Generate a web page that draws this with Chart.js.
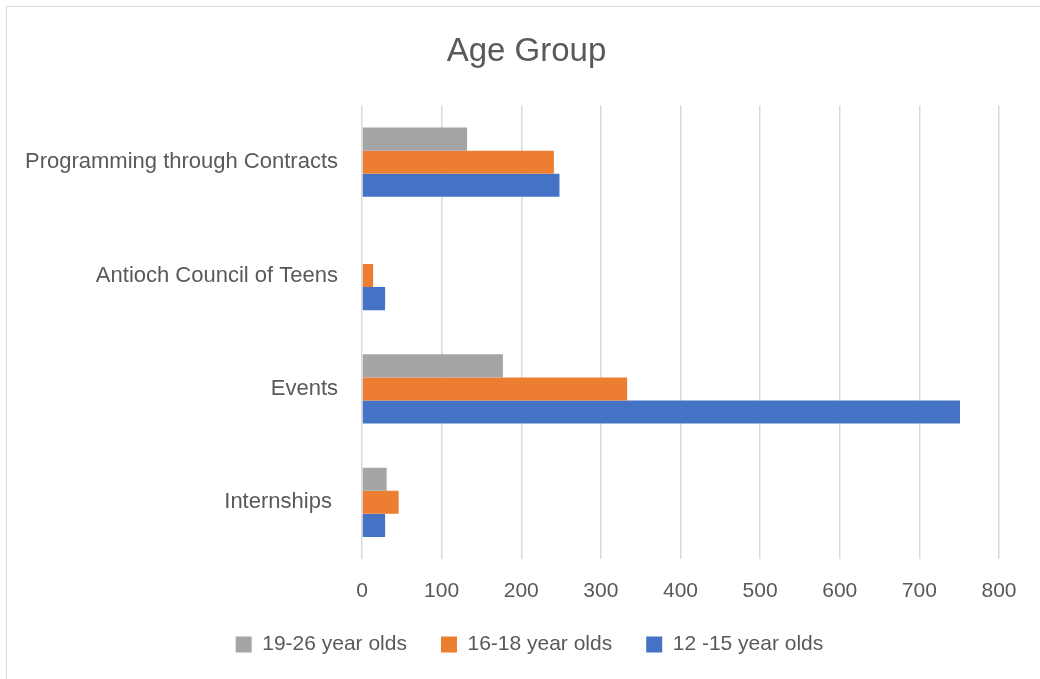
<!DOCTYPE html>
<html>
<head>
<meta charset="utf-8">
<script src="https://cdn.jsdelivr.net/npm/chart.js@4"></script>
<style>
  html, body { margin: 0; padding: 0; background: #fff; }
  #wrap { position: relative; width: 1040px; height: 679px; overflow: hidden; }
  #frame { position: absolute; left: 6px; top: 6px; width: 1100px; height: 760px; border: 1.5px solid #d9d9d9; pointer-events: none; box-sizing: border-box; }
  canvas { position: absolute; left: 0; top: 0; }
</style>
</head>
<body>
<div id="wrap">
  <canvas id="c" width="1040" height="679"></canvas>
  <div id="frame"></div>
</div>
<script>
const categories = ["Programming through Contracts", "Antioch Council of Teens", "Events", "Internships "];
const seriesNames = ["19-26 year olds", "16-18 year olds", "12 -15 year olds"];
const values1926 = [132, 0, 177, 31];
const values1618 = [241, 14, 333, 46];
const values1215 = [248, 29, 751, 29];
const seriesColors = ["#a5a5a5", "#ed7d31", "#4472c4"];
const xTicks = [0, 100, 200, 300, 400, 500, 600, 700, 800];

const FONT = "'Liberation Sans', Arial, sans-serif";
const TXT = "#595959";

const allValues = [values1926, values1618, values1215];
const datasets = seriesNames.map((name, i) => ({
  label: name,
  data: allValues[i],
  backgroundColor: seriesColors[i],
  borderWidth: 0,
  categoryPercentage: 0.61,
  barPercentage: 1.0
}));

// Shift title and legend horizontally to match the reference centring
const shiftBlocks = {
  id: "shiftBlocks",
  afterLayout(chart) {
    const t = chart.titleBlock;
    if (t) { t.left += 27; t.right += 27; }
    const l = chart.legend;
    if (l) { l.left += 30; l.right += 30; }
  }
};

new Chart(document.getElementById("c"), {
  type: "bar",
  data: { labels: categories, datasets },
  plugins: [shiftBlocks],
  options: {
    indexAxis: "y",
    responsive: false,
    animation: false,
    devicePixelRatio: 1,
    layout: { padding: { left: 0, right: 41, top: 0, bottom: 14 } },
    plugins: {
      title: {
        display: true,
        text: "Age Group",
        color: TXT,
        font: { family: FONT, size: 33, weight: "normal" },
        padding: { top: 32, bottom: 33.9 }
      },
      legend: {
        position: "bottom",
        labels: {
          color: TXT,
          font: { family: FONT, size: 21 },
          boxWidth: 16,
          boxHeight: 16,
          padding: 34
        }
      },
      tooltip: { enabled: false }
    },
    scales: {
      x: {
        min: 0,
        max: 800,
        afterBuildTicks: (s) => { s.ticks = xTicks.map(v => ({ value: v })); },
        afterFit: (s) => { s.height = 41; },
        ticks: { color: TXT, font: { family: FONT, size: 21 }, padding: 20 },
        grid: { color: "#d9d9d9", lineWidth: 1.5, drawTicks: false },
        border: { display: false }
      },
      y: {
        afterFit: (s) => { s.width = 362; },
        ticks: { color: TXT, font: { family: FONT, size: 22 }, padding: 16 },
        grid: { display: false },
        border: { display: false }
      }
    }
  }
});
</script>
</body>
</html>
